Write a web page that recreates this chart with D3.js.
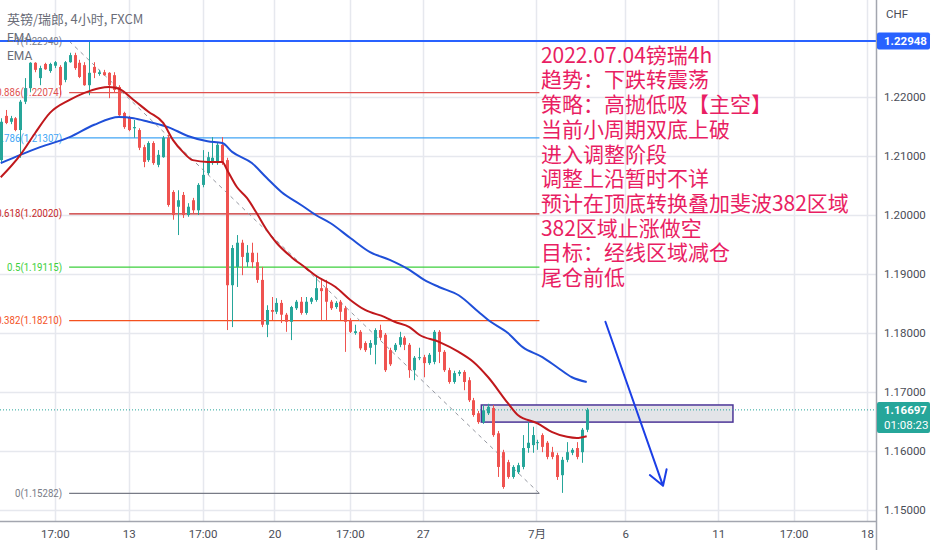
<!DOCTYPE html>
<html>
<head>
<meta charset="utf-8">
<script src="https://cdn.jsdelivr.net/npm/d3@7"></script>
<style>
  body { margin: 0; background: #fff; }
  text { font-family: Roboto, "Noto Sans CJK SC", sans-serif; }
</style>
</head>
<body>
<svg id="chart" width="932" height="550"></svg>
<script>
// GBP/CHF 4h candles
const opens = [
  1.2093, 1.2168, 1.2158, 1.2164, 1.2144, 1.2192, 1.2215, 1.2258, 1.2232, 1.2256,
  1.2244, 1.2253, 1.2251, 1.2229, 1.2259, 1.2271, 1.2258, 1.2254, 1.2220, 1.2251,
  1.2239, 1.2242, 1.2241, 1.2237, 1.2217, 1.2173, 1.2166, 1.2147, 1.2144, 1.2115,
  1.2093, 1.2122, 1.2085, 1.2098, 1.2131, 1.2039, 1.2014, 1.2034, 1.2000, 1.2025,
  1.2008, 1.2051, 1.2071, 1.2088, 1.2088, 1.2119, 1.2093, 1.1881, 1.1912, 1.1953,
  1.1920, 1.1936, 1.1920, 1.1890, 1.1814, 1.1839, 1.1836, 1.1851, 1.1831, 1.1819,
  1.1842, 1.1853, 1.1834, 1.1853, 1.1856, 1.1876, 1.1876, 1.1853, 1.1844, 1.1853,
  1.1842, 1.1822, 1.1800, 1.1802, 1.1783, 1.1775, 1.1780, 1.1805, 1.1797, 1.1771,
  1.1771, 1.1780, 1.1792, 1.1780, 1.1737, 1.1758, 1.1759, 1.1749, 1.1751, 1.1802,
  1.1768, 1.1737, 1.1717, 1.1731, 1.1734, 1.1720, 1.1686, 1.1664, 1.1649, 1.1664,
  1.1673, 1.1630, 1.1598, 1.1581, 1.1556, 1.1564, 1.1573, 1.1605, 1.1610, 1.1614,
  1.1627, 1.1614, 1.1598, 1.1593, 1.1559, 1.1585, 1.1597, 1.1605, 1.1598, 1.1636
];
const highs = [
  1.2164, 1.2178, 1.2168, 1.2166, 1.2195, 1.2232, 1.2259, 1.2259, 1.2253, 1.2258,
  1.2258, 1.2261, 1.2254, 1.2261, 1.2275, 1.2275, 1.2263, 1.2259, 1.2295, 1.2259,
  1.2246, 1.2246, 1.2242, 1.2242, 1.2220, 1.2175, 1.2168, 1.2161, 1.2147, 1.2119,
  1.2125, 1.2125, 1.2110, 1.2134, 1.2136, 1.2042, 1.2042, 1.2039, 1.2020, 1.2029,
  1.2054, 1.2110, 1.2107, 1.2132, 1.2122, 1.2132, 1.2097, 1.1949, 1.1966, 1.1958,
  1.1949, 1.1953, 1.1936, 1.1912, 1.1847, 1.1861, 1.1859, 1.1856, 1.1834, 1.1846,
  1.1856, 1.1861, 1.1861, 1.1861, 1.1898, 1.1893, 1.1890, 1.1856, 1.1854, 1.1856,
  1.1846, 1.1825, 1.1814, 1.1805, 1.1786, 1.1788, 1.1808, 1.1814, 1.1800, 1.1775,
  1.1783, 1.1802, 1.1795, 1.1783, 1.1761, 1.1775, 1.1763, 1.1766, 1.1805, 1.1805,
  1.1771, 1.1741, 1.1736, 1.1737, 1.1737, 1.1725, 1.1690, 1.1668, 1.1678, 1.1680,
  1.1678, 1.1634, 1.1602, 1.1585, 1.1576, 1.1580, 1.1627, 1.1649, 1.1641, 1.1619,
  1.1630, 1.1617, 1.1607, 1.1597, 1.1590, 1.1615, 1.1605, 1.1615, 1.1639, 1.1673
];
const lows = [
  1.2088, 1.2154, 1.2154, 1.2142, 1.2097, 1.2188, 1.2208, 1.2242, 1.2220, 1.2246,
  1.2241, 1.2249, 1.2203, 1.2225, 1.2258, 1.2246, 1.2232, 1.2219, 1.2203, 1.2232,
  1.2236, 1.2236, 1.2198, 1.2208, 1.2168, 1.2146, 1.2142, 1.2131, 1.2110, 1.2081,
  1.2090, 1.2085, 1.2081, 1.2097, 1.2014, 1.1992, 1.1966, 1.1995, 1.1997, 1.2002,
  1.2000, 1.2047, 1.2068, 1.2085, 1.2085, 1.2085, 1.1805, 1.1810, 1.1878, 1.1898,
  1.1912, 1.1910, 1.1885, 1.1810, 1.1793, 1.1822, 1.1832, 1.1817, 1.1802, 1.1788,
  1.1839, 1.1831, 1.1831, 1.1849, 1.1853, 1.1822, 1.1822, 1.1839, 1.1841, 1.1822,
  1.1768, 1.1800, 1.1797, 1.1771, 1.1768, 1.1763, 1.1747, 1.1788, 1.1734, 1.1744,
  1.1768, 1.1776, 1.1771, 1.1724, 1.1720, 1.1754, 1.1725, 1.1746, 1.1747, 1.1749,
  1.1734, 1.1714, 1.1714, 1.1727, 1.1703, 1.1683, 1.1658, 1.1646, 1.1646, 1.1661,
  1.1624, 1.1556, 1.1536, 1.1553, 1.1553, 1.1561, 1.1569, 1.1597, 1.1597, 1.1602,
  1.1598, 1.1586, 1.1586, 1.1551, 1.1529, 1.1581, 1.1593, 1.1586, 1.1580, 1.1632
];
const closes = [
  1.2158, 1.2156, 1.2164, 1.2144, 1.2192, 1.2215, 1.2258, 1.2246, 1.2249, 1.2247,
  1.2256, 1.2259, 1.2220, 1.2259, 1.2271, 1.2249, 1.2234, 1.2220, 1.2241, 1.2241,
  1.2242, 1.2237, 1.2220, 1.2212, 1.2169, 1.2149, 1.2144, 1.2149, 1.2114, 1.2090,
  1.2122, 1.2088, 1.2102, 1.2131, 1.2017, 1.2000, 1.2025, 1.2000, 1.2014, 1.2008,
  1.2051, 1.2068, 1.2098, 1.2097, 1.2119, 1.2088, 1.1881, 1.1944, 1.1953, 1.1929,
  1.1936, 1.1920, 1.1890, 1.1814, 1.1839, 1.1836, 1.1851, 1.1831, 1.1819, 1.1844,
  1.1853, 1.1834, 1.1853, 1.1859, 1.1876, 1.1871, 1.1853, 1.1842, 1.1851, 1.1836,
  1.1819, 1.1802, 1.1803, 1.1774, 1.1771, 1.1783, 1.1805, 1.1792, 1.1737, 1.1747,
  1.1780, 1.1793, 1.1780, 1.1737, 1.1758, 1.1759, 1.1749, 1.1763, 1.1802, 1.1768,
  1.1737, 1.1717, 1.1732, 1.1734, 1.1717, 1.1686, 1.1661, 1.1649, 1.1669, 1.1675,
  1.1627, 1.1573, 1.1539, 1.1556, 1.1573, 1.1576, 1.1605, 1.1614, 1.1627, 1.1615,
  1.1607, 1.1590, 1.1590, 1.1556, 1.1585, 1.1598, 1.1602, 1.1590, 1.1636, 1.16697
];

// the two EMA lines, sampled at bar indices
const emaFastIdx = [0, 4, 7, 10, 14, 17, 20, 22, 24, 27, 30, 33, 35, 37, 39, 42, 45, 46, 48, 50,
  52, 54, 56, 59, 62, 64, 68, 71, 74, 78, 80, 83, 85, 89, 93, 96, 99, 103, 105, 109, 112, 115, 117, 119];
const emaFastVal = [1.2064, 1.2102, 1.2139, 1.2173, 1.2195, 1.2207, 1.2215, 1.2217, 1.2214, 1.2195,
  1.2175, 1.2156, 1.2127, 1.2107, 1.2093, 1.2090, 1.2090, 1.2076, 1.2047, 1.2029,
  1.2003, 1.1975, 1.1953, 1.1929, 1.1910, 1.1897, 1.1878, 1.1856, 1.1839, 1.1827,
  1.1819, 1.1810, 1.1797, 1.1785, 1.1768, 1.1751, 1.1725, 1.1681, 1.1661, 1.1647,
  1.1632, 1.1624, 1.1622, 1.1625];
const emaSlowIdx = [0, 4, 8, 14, 19, 24, 27, 30, 34, 38, 42, 45, 47, 51, 54, 57, 61, 64, 67, 71,
  75, 79, 83, 86, 89, 93, 97, 99, 103, 106, 110, 113, 116, 119];
const emaSlowVal = [1.2088, 1.2102, 1.2115, 1.2132, 1.2153, 1.2166, 1.2164, 1.2158, 1.2149, 1.2134,
  1.2125, 1.2122, 1.2107, 1.2088, 1.2063, 1.2039, 1.2017, 1.2000, 1.1986, 1.1961,
  1.1937, 1.1924, 1.1907, 1.1890, 1.1878, 1.1864, 1.1836, 1.1822, 1.1800, 1.1776,
  1.1759, 1.1742, 1.1725, 1.1717];

// fibonacci retracement
const fibLevels = ["1", "0.886", "0.786", "0.618", "0.5", "0.382", "0"];
const fibPrices = [1.22948, 1.22074, 1.21307, 1.20020, 1.19115, 1.18210, 1.15282];
const fibStartIdx = 13.9;
const fibEndIdx = 109.4;

// axis ticks
const priceTicks = [1.15, 1.16, 1.17, 1.18, 1.19, 1.20, 1.21, 1.22];
const timeTickIdx = [11, 26, 41, 55.6, 70.9, 85.7, 108.8, 126.8, 145.7, 161, 175.9];
const timeTickLabels = ["17:00", "13", "17:00", "20", "17:00", "27", "7月", "6", "11", "17:00", "18"];

// drawings
const hLinePrice = 1.22948;
const lastPrice = 1.16697;
const countdown = "01:08:23";
const zoneIdx = [97.6, 148.7];
const zonePrices = [1.1678, 1.1649];
const arrowIdx = [122.8, 134.5];
const arrowPrices = [1.1819, 1.1541];
const noteIdx = 109.7;
const notePrice = 1.2258;
const noteLines = [
  "2022.07.04镑瑞4h",
  "趋势：下跌转震荡",
  "策略：高抛低吸【主空】",
  "当前小周期双底上破",
  "进入调整阶段",
  "调整上沿暂时不详",
  "预计在顶底转换叠加斐波382区域",
  "382区域止涨做空",
  "目标：经线区域减仓",
  "尾仓前低"
];

const W = 932, H = 550, plotW = 876, plotH = 521;
const upColor = "#26a69a", downColor = "#ef5350";
const fibColors = ["#787b86", "#e0504e", "#42a5f5", "#c62828", "#3ccf3c", "#f4511e", "#787b86"];

const svg = d3.select("#chart");

const x = d3.scaleLinear().domain([0, closes.length - 1]).range([0.7, 586.7]);
const y = d3.scaleLinear().domain([1.15, 1.22]).range([510, 97]);

svg.append("defs").append("clipPath").attr("id", "plot")
  .append("rect").attr("width", plotW).attr("height", plotH);

const plot = svg.append("g").attr("clip-path", "url(#plot)");

// grid
plot.selectAll(".hgrid").data(priceTicks).enter().append("line")
  .attr("class", "hgrid")
  .attr("x1", 0).attr("x2", plotW)
  .attr("y1", d => Math.round(y(d)) + 0.5).attr("y2", d => Math.round(y(d)) + 0.5)
  .attr("stroke", "#e6e8ee").attr("stroke-width", 1.5);

plot.selectAll(".vgrid").data(timeTickIdx).enter().append("line")
  .attr("class", "vgrid")
  .attr("y1", 0).attr("y2", plotH)
  .attr("x1", d => Math.round(x(d)) + 0.5).attr("x2", d => Math.round(x(d)) + 0.5)
  .attr("stroke", "#e6e8ee").attr("stroke-width", 1.5);

// fib levels
const fx1 = x(fibStartIdx), fx2 = x(fibEndIdx);
plot.selectAll(".fib").data(fibPrices).enter().append("line")
  .attr("class", "fib")
  .attr("x1", fx1).attr("x2", fx2)
  .attr("y1", d => y(d)).attr("y2", d => y(d))
  .attr("stroke", (d, i) => fibColors[i]).attr("stroke-width", 1.3);

// labels are drawn a little narrower, like the condensed chart font
plot.selectAll(".fib-label").data(fibPrices).enter().append("text")
  .attr("class", "fib-label")
  .attr("transform", d => "translate(" + (fx1 - 7) + "," + y(d) + ") scale(0.92,1)")
  .attr("dy", "0.35em")
  .attr("text-anchor", "end")
  .attr("font-size", 10.5)
  .attr("fill", (d, i) => fibColors[i])
  .text((d, i) => fibLevels[i] + "(" + d.toFixed(5) + ")");

// trend line of the fib
plot.append("line")
  .attr("x1", fx1).attr("y1", y(fibPrices[0]))
  .attr("x2", fx2).attr("y2", y(fibPrices[fibPrices.length - 1]))
  .attr("stroke", "#9598a1").attr("stroke-width", 1)
  .attr("stroke-dasharray", "4,4");

// zone box
plot.append("rect")
  .attr("x", x(zoneIdx[0])).attr("width", x(zoneIdx[1]) - x(zoneIdx[0]))
  .attr("y", y(zonePrices[0])).attr("height", y(zonePrices[1]) - y(zonePrices[0]))
  .attr("fill", "#e3e4e8").attr("stroke", "#4b3597").attr("stroke-width", 1.5);

// last price dotted line
plot.append("line")
  .attr("x1", 0).attr("x2", plotW)
  .attr("y1", y(lastPrice)).attr("y2", y(lastPrice))
  .attr("stroke", upColor).attr("stroke-width", 1)
  .attr("stroke-dasharray", "1,2");

// candles
const candles = plot.selectAll(".candle").data(closes).enter().append("g")
  .attr("class", "candle");

candles.append("line")
  .attr("x1", (d, i) => Math.round(x(i)) + 0.5).attr("x2", (d, i) => Math.round(x(i)) + 0.5)
  .attr("y1", (d, i) => y(highs[i])).attr("y2", (d, i) => y(lows[i]))
  .attr("stroke", (d, i) => d >= opens[i] ? upColor : downColor)
  .attr("stroke-width", 1);

candles.append("rect")
  .attr("x", (d, i) => Math.round(x(i)) - 1)
  .attr("width", 3)
  .attr("y", (d, i) => y(Math.max(d, opens[i])))
  .attr("height", (d, i) => Math.max(1, Math.abs(y(d) - y(opens[i]))))
  .attr("fill", (d, i) => d >= opens[i] ? upColor : downColor);

// EMAs
const emaLine = d3.line().x(d => x(d[0])).y(d => y(d[1])).curve(d3.curveMonotoneX);

plot.append("path")
  .datum(d3.zip(emaSlowIdx, emaSlowVal))
  .attr("d", emaLine)
  .attr("fill", "none").attr("stroke", "#1f4fd8").attr("stroke-width", 2);

plot.append("path")
  .datum(d3.zip(emaFastIdx, emaFastVal))
  .attr("d", emaLine)
  .attr("fill", "none").attr("stroke", "#c0181c").attr("stroke-width", 2);

// horizontal line at the top
plot.append("line")
  .attr("x1", 0).attr("x2", plotW)
  .attr("y1", y(hLinePrice)).attr("y2", y(hLinePrice))
  .attr("stroke", "#2962ff").attr("stroke-width", 2);

// arrow
const ax1 = x(arrowIdx[0]), ay1 = y(arrowPrices[0]);
const ax2 = x(arrowIdx[1]), ay2 = y(arrowPrices[1]);
const ang = Math.atan2(ay2 - ay1, ax2 - ax1);
const headLen = 17, spread = 0.55;
plot.append("path")
  .attr("d", "M" + ax1 + "," + ay1 + "L" + ax2 + "," + ay2
    + "M" + (ax2 - headLen * Math.cos(ang - spread)) + "," + (ay2 - headLen * Math.sin(ang - spread))
    + "L" + ax2 + "," + ay2
    + "L" + (ax2 - headLen * Math.cos(ang + spread)) + "," + (ay2 - headLen * Math.sin(ang + spread)))
  .attr("fill", "none").attr("stroke", "#1c3fe6").attr("stroke-width", 2)
  .attr("stroke-linecap", "round").attr("stroke-linejoin", "round");

// annotation text
plot.append("text")
  .attr("x", x(noteIdx)).attr("y", y(notePrice))
  .attr("fill", "#e91e63")
  .attr("font-size", 21)
  .style("font-family", "'Noto Sans CJK SC', sans-serif")
  .selectAll("tspan").data(noteLines).enter().append("tspan")
  .attr("x", x(noteIdx))
  .attr("dy", (d, i) => i === 0 ? 0 : 24.7)
  .text(d => d);

// legend / header
svg.append("text").attr("x", 7).attr("y", 24)
  .attr("font-size", 13).attr("fill", "#6a6d78")
  .style("font-family", "'Noto Sans CJK SC', sans-serif")
  .text("英镑/瑞郎, 4小时, FXCM");
svg.append("text").attr("x", 7).attr("y", 42)
  .attr("font-size", 12).attr("fill", "#6a6d78").text("EMA");
svg.append("text").attr("x", 7).attr("y", 60)
  .attr("font-size", 12).attr("fill", "#6a6d78").text("EMA");

// axes frame
svg.append("line").attr("x1", plotW + 0.5).attr("x2", plotW + 0.5).attr("y1", 0).attr("y2", H)
  .attr("stroke", "#a3a6af").attr("stroke-width", 1.5);
svg.append("line").attr("x1", 0).attr("x2", plotW).attr("y1", plotH + 0.5).attr("y2", plotH + 0.5)
  .attr("stroke", "#a3a6af").attr("stroke-width", 1.5);

// price axis
const yAxis = d3.axisRight(y).tickValues(priceTicks).tickFormat(d3.format(".5f")).tickSize(0).tickPadding(8);
svg.append("g")
  .attr("transform", "translate(" + plotW + ",0)")
  .call(yAxis)
  .call(g => g.select(".domain").remove())
  .call(g => g.selectAll("text").attr("font-size", 11.5).attr("fill", "#4a4d57")
    .style("font-family", "Roboto, sans-serif"));

svg.append("text").attr("x", 886).attr("y", 18)
  .attr("font-size", 11.5).attr("fill", "#4a4d57").text("CHF");

// time axis
const xAxis = d3.axisBottom(x).tickValues(timeTickIdx)
  .tickFormat((d, i) => timeTickLabels[i]).tickSize(0).tickPadding(9);
svg.append("g")
  .attr("transform", "translate(0," + plotH + ")")
  .call(xAxis)
  .call(g => g.select(".domain").remove())
  .call(g => g.selectAll("text").attr("font-size", 11.5).attr("fill", "#4a4d57")
    .style("font-family", "Roboto, 'Noto Sans CJK SC', sans-serif"));

// price labels on the axis
const hl = svg.append("g").attr("transform", "translate(877," + (y(hLinePrice) - 8.5) + ")");
hl.append("rect").attr("width", 53).attr("height", 17).attr("rx", 2).attr("fill", "#2962ff");
hl.append("text").attr("x", 7).attr("y", 12.5).attr("font-size", 11.5)
  .attr("font-weight", "bold").attr("fill", "#fff").text(hLinePrice.toFixed(5));

const lp = svg.append("g").attr("transform", "translate(877," + (y(lastPrice) - 8) + ")");
lp.append("rect").attr("width", 53).attr("height", 31).attr("rx", 2).attr("fill", upColor);
lp.append("text").attr("x", 7).attr("y", 12.5).attr("font-size", 11.5)
  .attr("font-weight", "bold").attr("fill", "#fff").text(lastPrice.toFixed(5));
lp.append("text").attr("x", 7).attr("y", 27).attr("font-size", 11.5)
  .attr("fill", "#fff").text(countdown);
</script>
</body>
</html>
